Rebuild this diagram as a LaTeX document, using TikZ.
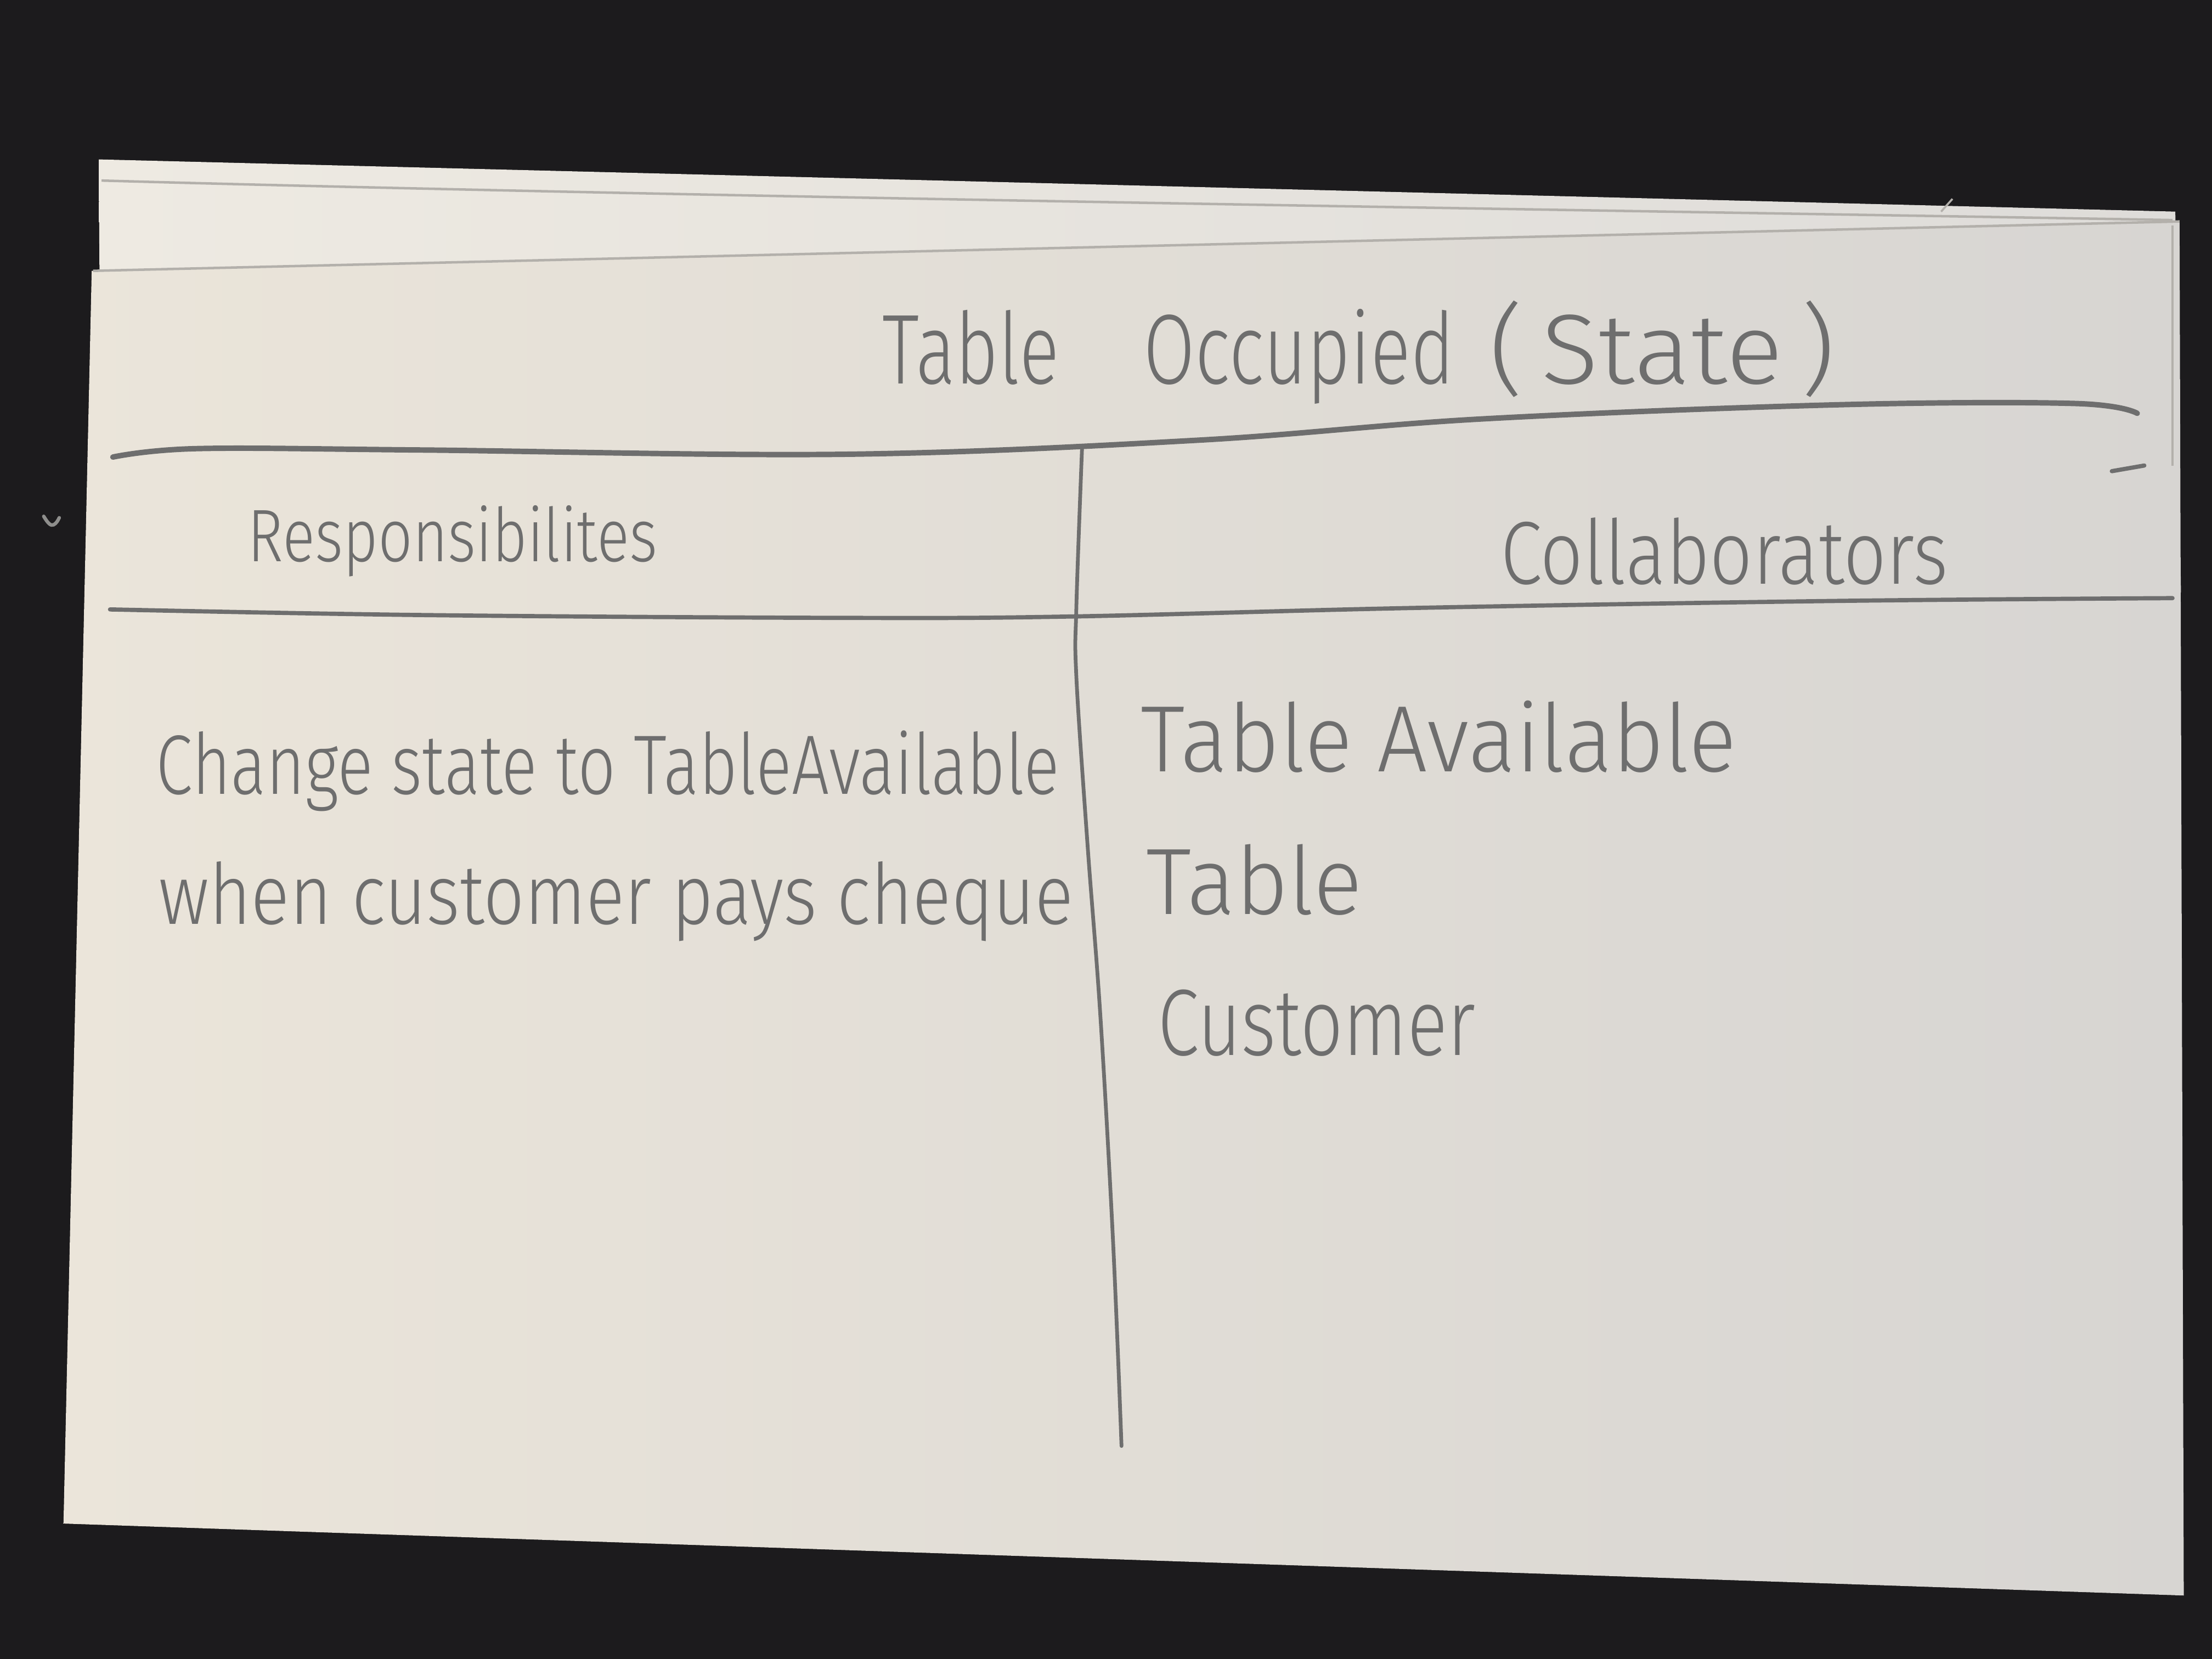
\documentclass[tikz,border=0pt]{standalone}
\usepackage{fontspec}
\usepackage{graphicx}
\newfontfamily\hand{Fira Sans Light}
\definecolor{desk}{HTML}{1C1B1D}
\definecolor{cardL}{HTML}{EBE5DA}
\definecolor{cardR}{HTML}{D7D5D2}
\definecolor{sheetL}{HTML}{EEEAE2}
\definecolor{sheetR}{HTML}{DEDCD9}
\definecolor{pencilgrey}{HTML}{6E6E6E}
\definecolor{edgegrey}{HTML}{B3B0AB}
\definecolor{lint}{HTML}{8E8E8C}
% stretch a line of writing to a given width, keeping its height
\newcommand\fitto[2]{\resizebox{#1}{\height}{#2}}
\tikzset{
  pencil/.style={draw=pencilgrey, line width=0.85pt, line cap=round, line join=round},
  edge/.style={draw=edgegrey, line width=0.5pt},
  writing/.style={text=pencilgrey, inner sep=0pt, anchor=base west, font=\hand\fontsize{17}{17}\selectfont},
  bigwriting/.style={writing, font=\hand\fontsize{19}{19}\selectfont},
}
\begin{document}
\begin{tikzpicture}[x=0.01cm,y=-0.01cm]
  % desk
  \fill[desk] (0,0) rectangle (1568,1176);
  \useasboundingbox (0,0) rectangle (1568,1176);
  % a bit of lint on the desk
  \draw[draw=lint, line width=0.7pt, line cap=round] (31,366) .. controls (34,371) and (36,373) .. (38,372) .. controls (40,371) and (41,369) .. (42,367);

  % sheet lying behind the card
  \fill[left color=sheetL, right color=sheetR] (70,113) -- (1542,150) -- (1546,420) -- (72,420) -- cycle;
  \draw[edge] (72,128) .. controls (500,140) and (1200,150) .. (1540,156);

  % the card
  \fill[left color=cardL, right color=cardR] (65,192) -- (1545,157) -- (1548,1131) -- (45,1080) -- cycle;
  \draw[edge] (66,192) -- (1545,157);
  \draw[edge] (1540,160) -- (1540,330);
  \draw[edge, line width=0.4pt] (1376,150) -- (1384,141);

  % ruled pencil lines
  \draw[pencil, line width=1.1pt] plot[smooth, tension=0.6] coordinates
    {(80,324) (140,318) (300,319) (600,322) (850,312) (1050,297) (1300,287) (1470,286) (1515,293)};
  \draw[pencil] plot[smooth, tension=0.6] coordinates
    {(78,432) (300,436) (600,438) (760,437) (1000,431) (1300,426) (1540,424)};
  \draw[pencil, line width=0.75pt] plot[smooth, tension=0.6] coordinates
    {(767,318) (763,430) (763,480) (771,600) (780,720) (789,880) (795,1025)};
  \draw[pencil] (1497,334) -- (1520,330);

  % title
  \node[writing, font=\hand\fontsize{20}{20}\selectfont] (tTable) at (625,272) {\fitto{1.25cm}{Table}};
  \node[writing, font=\hand\fontsize{20}{20}\selectfont] (tOcc) at (810,272) {\fitto{2.2cm}{Occupied}};
  \node[writing, font=\hand\fontsize{20}{20}\selectfont] (tState) at (1055,272) {\fitto{2.45cm}{(\,State\,)}};

  % column headings
  \node[writing, font=\hand\fontsize{15}{15}\selectfont] (resp) at (175,398) {\fitto{2.9cm}{Responsibilites}};
  \node[writing, font=\hand\fontsize{18}{18}\selectfont] (collab) at (1063,414) {\fitto{3.17cm}{Collaborators}};

  % responsibilities
  \node[writing] (r1) at (110,563) {\fitto{6.4cm}{Change state to TableAvailable}};
  \node[writing] (r2) at (112,655) {\fitto{6.48cm}{when customer pays cheque}};

  % collaborators
  \node[bigwriting] (c1) at (808,547) {\fitto{4.22cm}{Table Available}};
  \node[bigwriting] (c2) at (812,648) {\fitto{1.53cm}{Table}};
  \node[bigwriting] (c3) at (820,748) {\fitto{2.25cm}{Customer}};
\end{tikzpicture}
\end{document}
